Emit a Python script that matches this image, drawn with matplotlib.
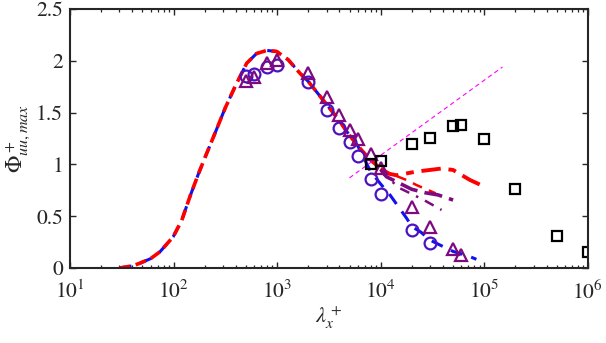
import matplotlib
matplotlib.use("Agg")
import matplotlib.pyplot as plt
import numpy as np

plt.rcParams['font.family'] = ['STIXGeneral', 'DejaVu Serif']
plt.rcParams['mathtext.fontset'] = 'stix'

# shared curve (both cases identical up to ~6000)
base_x = [30, 40, 47, 60, 74, 99, 120, 144, 174, 209, 251, 314, 392, 508, 633, 795, 990, 1280, 1660, 2000, 3000, 4000, 5000, 6000]
base_y = [0.0, 0.02, 0.045, 0.09, 0.157, 0.30, 0.46, 0.69, 0.91, 1.107, 1.30, 1.54, 1.75, 1.976, 2.07, 2.10, 2.09, 2.01, 1.88, 1.80, 1.58, 1.42, 1.28, 1.18]

# red continuation
red_x = [6000, 8000, 10000]
red_y = [1.18, 1.04, 0.96]
# blue continuation
blue_x = [6000, 8000, 10000, 12300, 17800, 20000, 24500, 29900, 35900, 50000, 70000, 84000]
blue_y = [1.18, 0.93, 0.81, 0.705, 0.48, 0.40, 0.345, 0.27, 0.23, 0.16, 0.116, 0.084]

# red thick dash-dot extension
reddd_x = [10000, 12000, 14200, 22000, 38700, 50000, 72600, 98000]
reddd_y = [0.96, 0.91, 0.895, 0.93, 0.96, 0.946, 0.85, 0.79]
# red thin dashed extension
redd_x = [10000, 14000, 18400, 22200, 28800, 34000]
redd_y = [0.95, 0.89, 0.843, 0.80, 0.752, 0.72]
# purple thick dashed
purd_x = [10000, 11400, 19900, 26700, 35900, 50000]
purd_y = [0.95, 0.88, 0.76, 0.727, 0.705, 0.656]
# purple thin dash-dot
purdd_x = [10000, 10500, 15300, 25700, 38700]
purdd_y = [0.95, 0.91, 0.77, 0.66, 0.56]

# log-law line
log_x = [5000, 150000]
log_y = [0.87, 1.94]

circ_x = [500, 600, 800, 1000, 2000, 3000, 4000, 5000, 6000, 8000, 10000, 20000, 30000]
circ_y = [1.85, 1.87, 1.94, 1.96, 1.80, 1.525, 1.354, 1.216, 1.08, 0.86, 0.714, 0.367, 0.238]

tri_x = [500, 600, 800, 1000, 2000, 3000, 4000, 5000, 6000, 8000, 10000, 20000, 30000, 50000, 60000]
tri_y = [1.805, 1.84, 1.976, 2.01, 1.885, 1.648, 1.477, 1.332, 1.242, 1.10, 0.962, 0.592, 0.393, 0.18, 0.125]

sq_x = [8000, 10000, 20000, 30000, 50000, 60000, 100000, 200000, 500000, 1000000]
sq_y = [1.0, 1.033, 1.194, 1.258, 1.374, 1.38, 1.242, 0.763, 0.309, 0.157]

xticks = [1e1, 1e2, 1e3, 1e4, 1e5, 1e6]
xticklabels = [r'$10^{1}$', r'$10^{2}$', r'$10^{3}$', r'$10^{4}$', r'$10^{5}$', r'$10^{6}$']
yticks = [0, 0.5, 1, 1.5, 2, 2.5]
yticklabels = ['0', '0.5', '1', '1.5', '2', '2.5']

fig = plt.figure(figsize=(6.06, 3.43), dpi=100)
ax = fig.add_axes([0.1155, 0.2187, 0.8545, 0.7551])

purple = '#7f0a80'
violet = '#4a12c0'

ax.plot(base_x + blue_x[1:], base_y + blue_y[1:], color='#1010f0', lw=2.2, ls=(0, (4, 3)))
ax.plot(base_x + red_x[1:], base_y + red_y[1:], color='red', lw=2.6, ls=(0, (3, 1.6)))
ax.plot(reddd_x, reddd_y, color='red', lw=2.8, ls=(0, (5, 2, 2, 2)))
ax.plot(redd_x, redd_y, color='red', lw=1.8, ls=(0, (4, 3)))
ax.plot(purd_x, purd_y, color=purple, lw=2.6, ls=(0, (5, 2)))
ax.plot(purdd_x, purdd_y, color=purple, lw=1.8, ls=(0, (4, 3, 1, 3)))
ax.plot(log_x, log_y, color='#ff00ff', lw=0.8, ls=(0, (4, 3)))

ax.plot(circ_x, circ_y, ls='none', marker='o', ms=8.5, mfc='none', mec=violet, mew=1.6)
ax.plot(tri_x, tri_y, ls='none', marker='^', ms=9, mfc='none', mec=purple, mew=1.6)
ax.plot(sq_x, sq_y, ls='none', marker='s', ms=6.5, mfc='none', mec='black', mew=1.6)

ax.set_xscale('log')
ax.set_xlim(1e1, 1e6)
ax.set_ylim(0, 2.5)
ax.set_xticks(xticks)
ax.set_xticklabels(xticklabels)
ax.set_yticks(yticks)
ax.set_yticklabels(yticklabels)
ax.xaxis.set_minor_locator(matplotlib.ticker.LogLocator(base=10, subs=np.arange(2, 10), numticks=20))
ax.xaxis.set_minor_formatter(matplotlib.ticker.NullFormatter())

ax.tick_params(which='both', direction='in', top=True, right=True, labelsize=15.5, colors='#262626')
ax.tick_params(which='major', length=4, width=1.0)
ax.tick_params(which='minor', length=2.5, width=0.9)
ax.tick_params(axis='x', pad=9)
ax.tick_params(axis='y', pad=5)
for s in ax.spines.values():
    s.set_linewidth(1.5)
    s.set_color('#262626')

ax.set_xlabel(r'$\lambda_x^+$', fontsize=16, color='#262626', labelpad=1)
ax.set_ylabel(r'$\Phi^+_{uu,max}$', fontsize=16.5, color='#262626', labelpad=3)

fig.savefig('out.png', dpi=100)
